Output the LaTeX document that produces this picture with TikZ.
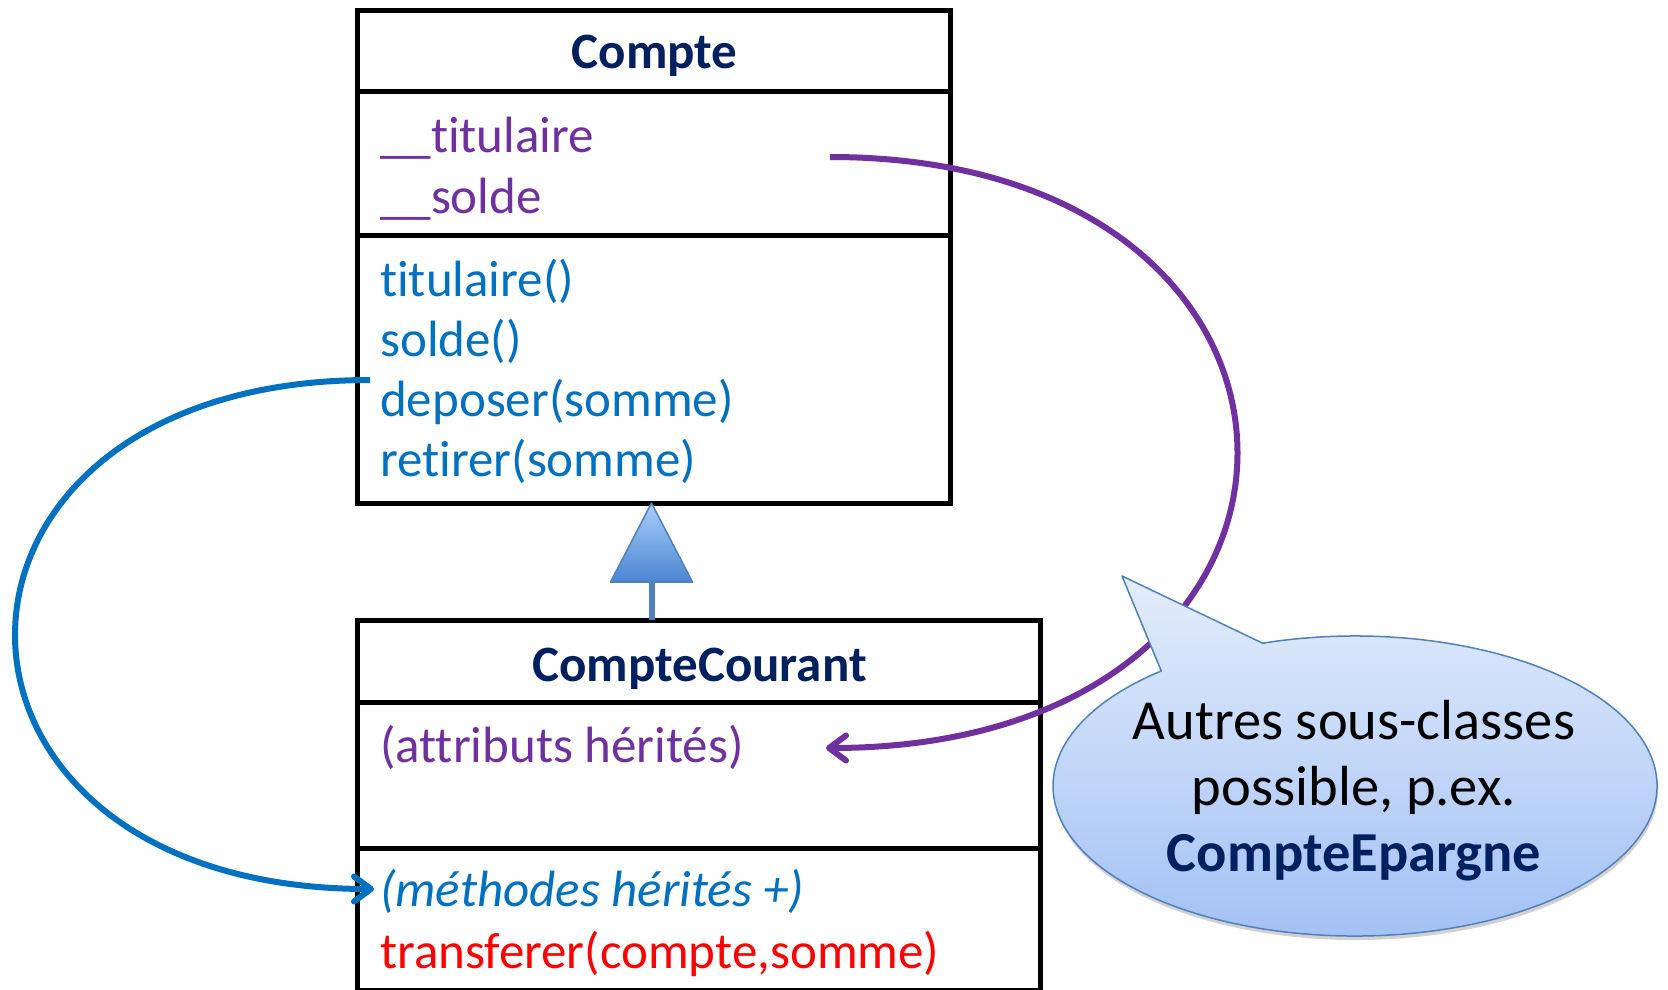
\documentclass[tikz,border=0pt]{standalone}
\usepackage{fontspec}
\setmainfont{Carlito}[Ligatures={NoCommon,NoRare,NoContextual}]
\usetikzlibrary{arrows.meta,shadows,calc}

\definecolor{navy}{HTML}{002060}
\definecolor{attrpurple}{HTML}{7030A0}
\definecolor{methblue}{HTML}{0070C0}
\definecolor{steel}{HTML}{4F81BD}
\definecolor{tritop}{HTML}{A9CDF9}
\definecolor{tribot}{HTML}{4A86D0}
\definecolor{bubtop}{HTML}{E3EDFC}
\definecolor{bubbot}{HTML}{A0BFF4}

\tikzset{
  compartment/.style={draw=black, line width=5pt, anchor=north west,
    inner sep=0pt, outer sep=0pt},
  classname/.style={anchor=base, inner sep=0pt, text=navy,
    font=\fontsize{51}{61}\selectfont\bfseries},
  member/.style={anchor=base west, inner sep=0pt,
    font=\fontsize{51}{61}\selectfont},
  bubbletext/.style={anchor=base, inner sep=0pt,
    font=\fontsize{56.5}{66}\selectfont},
  link/.style={line width=6pt,
    -{Straight Barb[length=17pt, width=25pt, line cap=round, line join=round]}},
}

\begin{document}
\begin{tikzpicture}[x=1pt, y=-1pt]
  \useasboundingbox (0,0) rectangle (1668,989);
  \fill[white] (0,0) rectangle (1668,989);

  % class Compte
  \node[compartment, minimum width=593, minimum height=81]  (cHead) at (357,10)  {};
  \node[compartment, minimum width=593, minimum height=144] (cAttr) at (357,91)  {};
  \node[compartment, minimum width=593, minimum height=268] (cMeth) at (357,235) {};
  \node[classname] (cName) at (654.5,68) {Compte};
  \node[member, text=attrpurple] (aTit) at (380,152) {\_\_titulaire};
  \node[member, text=attrpurple] (aSol) at (380,213) {\_\_solde};
  \node[member, text=methblue] (mTit) at (380,296) {titulaire()};
  \node[member, text=methblue] (mSol) at (380,356) {solde()};
  \node[member, text=methblue] (mDep) at (380,416) {deposer(somme)};
  \node[member, text=methblue] (mRet) at (380,476) {retirer(somme)};

  % class CompteCourant
  \node[compartment, minimum width=683, minimum height=82]  (ccHead) at (357,620) {};
  \node[compartment, minimum width=683, minimum height=146] (ccAttr) at (357,702) {};
  \node[compartment, minimum width=683, minimum height=142] (ccMeth) at (357,848) {};
  \node[classname] (ccName) at (699.5,681) {CompteCourant};
  \node[member, text=attrpurple] (ccInhA) at (380,762) {(attributs hérités)};
  \node[member, text=methblue, font=\fontsize{51}{61}\selectfont\itshape] (ccInhM) at (380,906) {(méthodes hérités +)};
  \node[member, text=red] (ccTrans) at (380,968) {transferer(compte,somme)};

  % inheritance: shaded triangle on Compte, stem down to CompteCourant
  \coordinate (triApex) at ([xshift=-2pt]cMeth.south);
  \path[draw=steel, line width=1.5pt, line join=round, top color=tritop, bottom color=tribot]
    (triApex) -- ++(41,79) coordinate (triR) -- ++(-82,0) coordinate (triL) -- cycle;
  \coordinate (triBase) at ($(triL)!0.5!(triR)$);
  \draw[steel, line width=6pt] ([yshift=0.75pt]triBase) -- (triBase |- ccHead.north);

  % inherited methods
  \coordinate (blueStart) at (370,380);
  \coordinate (blueEnd) at (374,889);
  \draw[link, methblue] (blueStart) .. controls (-103,380) and (-103,889) .. (blueEnd);

  % inherited attributes
  \coordinate (purpStart) at (830,157);
  \coordinate (purpEnd) at (826,748);
  \draw[link, attrpurple] (purpStart) .. controls (1373,157) and (1373,748) .. (purpEnd);

  % speech bubble
  \coordinate (bubC) at (1355,786);
  \coordinate (bubTip) at (1122,576);
  \path[draw=steel, line width=1.5pt, line join=round, top color=bubtop, bottom color=bubbot,
        drop shadow={shadow xshift=1pt, shadow yshift=-4pt, opacity=0.18, fill=black}]
    ($(bubC)+(-107.8:302 and 150)$)
    arc[start angle=-107.8, end angle=230.1, x radius=302, y radius=150]
    -- (bubTip) -- cycle;
  \node[bubbletext] (bub1) at (1354,739) {Autres sous-classes};
  \node[bubbletext] (bub2) at (1354,805) {possible, p.ex.};
  \node[bubbletext, text=navy, font=\fontsize{56.5}{66}\selectfont\bfseries] (bub3) at (1354,871) {CompteEpargne};
\end{tikzpicture}
\end{document}
